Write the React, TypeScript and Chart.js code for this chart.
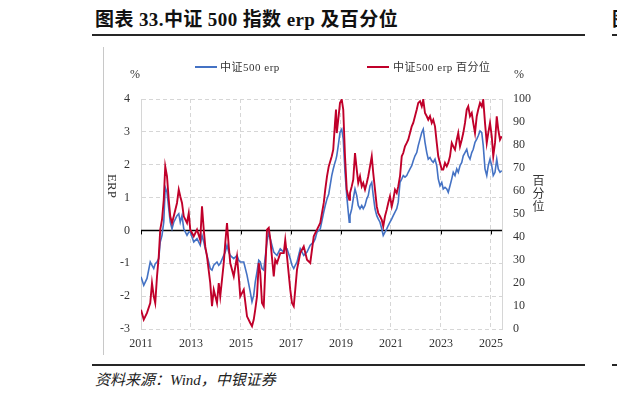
import React, { useEffect, useRef } from "react";
import { Chart, registerables } from "chart.js";

Chart.register(...registerables);

// Decimal-year dates shared by both series
const dates = [
  2011.00, 2011.11, 2011.24, 2011.37, 2011.44, 2011.51, 2011.57, 2011.64, 2011.71, 2011.77,
  2011.84, 2011.91, 2011.97, 2012.04, 2012.11, 2012.17, 2012.24, 2012.31, 2012.44, 2012.51,
  2012.57, 2012.64, 2012.71, 2012.84, 2012.91, 2012.97, 2013.11, 2013.24, 2013.37, 2013.44,
  2013.51, 2013.57, 2013.64, 2013.77, 2013.84, 2013.91, 2014.04, 2014.11, 2014.17, 2014.31,
  2014.37, 2014.44, 2014.51, 2014.57, 2014.71, 2014.84, 2014.91, 2014.97, 2015.11, 2015.24,
  2015.37, 2015.44, 2015.51, 2015.57, 2015.64, 2015.71, 2015.77, 2015.84, 2015.91, 2016.04,
  2016.11, 2016.17, 2016.31, 2016.37, 2016.44, 2016.57, 2016.71, 2016.77, 2016.84, 2016.97,
  2017.04, 2017.11, 2017.17, 2017.24, 2017.37, 2017.51, 2017.64, 2017.77, 2017.91, 2017.97,
  2018.04, 2018.17, 2018.31, 2018.37, 2018.44, 2018.51,
  2018.63, 2018.69, 2018.76, 2018.80, 2018.83, 2018.89, 2018.96,
  2019.03, 2019.09, 2019.16, 2019.23, 2019.29, 2019.33, 2019.36, 2019.43, 2019.49, 2019.56,
  2019.63, 2019.69, 2019.76, 2019.83, 2019.89, 2019.96,
  2020.03, 2020.09, 2020.16, 2020.23, 2020.29, 2020.36, 2020.43, 2020.49, 2020.56, 2020.63,
  2020.69, 2020.76, 2020.83, 2020.89, 2020.96,
  2021.03, 2021.09, 2021.16, 2021.23, 2021.29, 2021.36, 2021.43, 2021.49, 2021.56, 2021.63,
  2021.69, 2021.76, 2021.83, 2021.89, 2021.96,
  2022.03, 2022.09, 2022.16, 2022.23, 2022.29, 2022.36, 2022.43, 2022.49, 2022.56, 2022.63,
  2022.69, 2022.76, 2022.83, 2022.89, 2022.96,
  2023.03, 2023.09, 2023.16, 2023.23, 2023.29, 2023.36, 2023.43, 2023.49, 2023.56, 2023.63,
  2023.69, 2023.76, 2023.83, 2023.89, 2023.96,
  2024.03, 2024.09, 2024.16, 2024.23, 2024.29, 2024.36, 2024.43, 2024.49, 2024.56, 2024.63,
  2024.69, 2024.76, 2024.83, 2024.89, 2024.96,
  2025.03, 2025.09, 2025.16, 2025.23, 2025.29, 2025.36, 2025.43,
];

// 中证500 erp (%)
const erpValues = [
  -1.41, -1.67, -1.46, -0.96, -1.06, -1.16, -1.01, -0.96, -0.86, -0.35,
  -0.15, 0.25, 1.31, 1.16, 0.66, 0.25, 0.05, 0.25, 0.45, 0.51,
  0.25, 0.45, 0.05, -0.15, -0.05, -0.05, -0.35, -0.25, -0.45, -0.15,
  -0.35, -0.56, -0.76, -1.16, -1.21, -1.06, -0.96, -1.06, -1.01, -0.76,
  -0.66, -0.45, -0.66, -0.76, -0.86, -0.76, -0.91, -0.96, -0.96, -1.36,
  -1.87, -2.17, -1.97, -1.57, -1.26, -0.91, -0.96, -1.16, -1.21, -0.35,
  -0.05, -0.25, -0.66, -0.71, -0.76, -0.56, -0.66, -0.56, -0.56, -0.86,
  -1.06, -1.16, -1.06, -0.96, -0.56, -0.76, -0.66, -0.45, -0.35, -0.25,
  -0.05, 0.05, 0.56, 0.76, 0.96, 1.11,
  1.67, 1.87, 2.07, 2.17, 2.27, 2.58, 2.98,
  3.08, 2.78, 1.77, 1.06, 0.56, 0.25, 0.45, 0.66, 0.96, 1.26,
  1.06, 0.76, 0.66, 0.76, 0.66, 0.76,
  0.96, 1.06, 1.36, 1.46, 1.06, 0.66, 0.45, 0.35, 0.25, 0.05,
  -0.15, -0.05, 0.05, 0.15, 0.25,
  0.35, 0.45, 0.56, 0.66, 0.86, 1.46, 1.57, 1.67, 1.62, 1.67,
  1.77, 1.87, 1.97, 2.12, 2.27,
  2.37, 2.58, 2.78, 2.98, 3.08, 2.68, 2.37, 2.17, 2.22, 2.12,
  2.07, 2.17, 1.97, 1.57, 1.36,
  1.46, 1.26, 1.31, 1.26, 1.16, 1.36, 1.57, 1.77, 1.67, 1.87,
  1.77, 1.97, 2.07, 2.27, 2.37,
  2.47, 2.27, 2.17, 2.37, 2.47, 2.68, 2.78, 2.88, 3.03, 2.98,
  2.58, 1.87, 1.67, 1.97, 2.17,
  1.97, 1.67, 1.77, 2.17, 1.87, 1.77, 1.82,
];

// 中证500 erp 百分位 (%)
const pctValues = [
  8.4, 4.1, 7.0, 11.3, 20.0, 14.2, 11.3, 22.9, 31.6, 43.2,
  47.5, 56.2, 70.7, 66.4, 56.2, 49.0, 46.1, 49.0, 54.8, 60.6,
  57.7, 54.8, 49.0, 46.1, 50.4, 43.2, 40.3, 43.2, 38.7, 53.3,
  43.2, 35.9, 31.6, 20.0, 9.9, 17.1, 11.3, 20.0, 14.2, 28.7,
  37.4, 46.1, 36.0, 28.7, 22.9, 31.6, 22.9, 14.2, 17.1, 5.5,
  2.6, 1.2, 4.1, 8.4, 14.2, 28.7, 24.3, 11.3, 9.9, 43.2,
  44.0, 39.1, 22.9, 30.1, 28.7, 33.0, 33.0, 38.7, 31.6, 17.1,
  11.3, 9.9, 17.1, 25.8, 33.0, 35.9, 30.1, 28.7, 40.3, 41.7,
  43.2, 46.1, 54.8, 60.6, 66.4, 70.7,
  75.1, 78.0, 89.6, 95.4, 85.2, 91.0, 98.3,
  99.7, 95.4, 75.1, 60.6, 57.7, 56.2, 59.1, 62.0, 64.9, 76.5,
  69.3, 63.5, 66.4, 62.0, 63.5, 60.6,
  63.5, 66.4, 70.7, 75.1, 67.8, 60.6, 53.3, 50.4, 49.0, 47.5,
  44.6, 49.0, 51.9, 54.8, 57.7,
  53.3, 56.2, 60.6, 59.1, 62.0, 66.4, 75.1, 76.5, 79.4, 80.9,
  82.3, 85.2, 88.1, 89.6, 92.5,
  95.4, 98.3, 99.0, 96.8, 99.7, 93.9, 92.5, 91.0, 92.5, 89.6,
  91.0, 88.1, 80.9, 75.1, 72.2,
  69.3, 69.3, 72.2, 70.7, 72.2, 75.1, 80.9, 79.4, 78.0, 82.3,
  85.2, 79.4, 82.3, 85.2, 89.6,
  95.4, 96.8, 92.5, 93.9, 89.6, 85.2, 92.5, 95.4, 98.3, 96.8,
  99.7, 89.6, 80.9, 85.2, 89.6,
  83.8, 75.1, 80.9, 92.5, 86.7, 82.3, 83.8,
];

const xTickYears = [2011, 2013, 2015, 2017, 2019, 2021, 2023, 2025];
const xMin = 2011;
const xMax = 2025.44;
const erpMin = -3;
const erpMax = 4;
const pctMin = 0;
const pctMax = 100;

const seriesNames = ["中证500 erp", "中证500 erp 百分位"];

const BLUE = "#4472C4";
const RED = "#C0002A";
const GRID = "#d6d6d6";
const TEXT = "#333333";
const FONT = '"Liberation Serif", "Noto Sans CJK SC", serif';

const zeroLinePlugin = {
  id: "zeroLine",
  beforeDatasetsDraw(chart: any) {
    const { ctx, chartArea, scales } = chart;
    const y0 = scales.y.getPixelForValue(0);
    ctx.save();
    ctx.strokeStyle = "#000";
    ctx.lineWidth = 1.5;
    ctx.beginPath();
    ctx.moveTo(chartArea.left, y0);
    ctx.lineTo(chartArea.right, y0);
    ctx.stroke();
    ctx.lineWidth = 1;
    scales.x.ticks.forEach((t: any) => {
      const x = Math.round(scales.x.getPixelForValue(t.value)) + 0.5;
      ctx.beginPath();
      ctx.moveTo(x, y0);
      ctx.lineTo(x, y0 + 4);
      ctx.stroke();
    });
    ctx.restore();
  },
};

function ChartCanvas() {
  const ref = useRef<HTMLCanvasElement | null>(null);
  useEffect(() => {
    if (!ref.current) return;
    const chart = new Chart(ref.current, {
      type: "line",
      data: {
        datasets: [
          {
            label: seriesNames[0],
            data: dates.map((d, i) => ({ x: d, y: erpValues[i] })),
            yAxisID: "y",
            borderColor: BLUE,
            backgroundColor: BLUE,
            borderWidth: 1.6,
            pointRadius: 0,
            tension: 0,
            order: 2,
          },
          {
            label: seriesNames[1],
            data: dates.map((d, i) => ({ x: d, y: pctValues[i] })),
            yAxisID: "y1",
            borderColor: RED,
            backgroundColor: RED,
            borderWidth: 1.9,
            pointRadius: 0,
            tension: 0,
            order: 1,
          },
        ],
      },
      options: {
        animation: false,
        responsive: false,
        maintainAspectRatio: false,
        layout: { padding: { top: 52, left: 0, right: 0, bottom: 0 } },
        plugins: {
          legend: { display: false },
          tooltip: { enabled: false },
          title: { display: false },
        },
        scales: {
          x: {
            type: "linear",
            min: xMin,
            max: xMax,
            afterBuildTicks: (s: any) => {
              s.ticks = xTickYears.map((v) => ({ value: v }));
            },
            afterFit: (s: any) => {
              s.height = 28;
            },
            grid: { color: GRID, drawTicks: false, lineWidth: 1 },
            border: { display: false, dash: [4, 3] },
            ticks: {
              padding: 8,
              autoSkip: false,
              maxRotation: 0,
              color: TEXT,
              font: { family: FONT, size: 12 },
              callback: (v: any) => String(v),
            },
          },
          y: {
            position: "left",
            min: erpMin,
            max: erpMax,
            afterFit: (s: any) => {
              s.width = 38;
            },
            grid: {
              color: (c: any) => (c.tick && c.tick.value === 0 ? "rgba(0,0,0,0)" : GRID),
              drawTicks: false,
              lineWidth: 1,
            },
            border: { display: true, color: GRID, dash: [4, 3] },
            ticks: {
              stepSize: 1,
              padding: 11,
              color: TEXT,
              font: { family: FONT, size: 12 },
            },
          },
          y1: {
            position: "right",
            min: pctMin,
            max: pctMax,
            afterFit: (s: any) => {
              s.width = 61;
            },
            grid: { drawOnChartArea: false, drawTicks: false },
            border: { display: true, color: GRID },
            ticks: {
              stepSize: 10,
              padding: 11,
              color: TEXT,
              font: { family: FONT, size: 12 },
            },
          },
        },
      },
      plugins: [zeroLinePlugin],
    } as any);
    return () => chart.destroy();
  }, []);
  return (
    <canvas
      ref={ref}
      width={460}
      height={310}
      style={{ position: "absolute", left: 103, top: 47, width: 460, height: 310 }}
    />
  );
}

const abs = (s: React.CSSProperties): React.CSSProperties => ({ position: "absolute", ...s });

export default function App() {
  return (
    <div
      style={{
        position: "fixed",
        left: 0,
        top: 0,
        width: 617,
        height: 398,
        background: "#fff",
        overflow: "hidden",
        fontFamily: FONT,
        color: TEXT,
      }}
    >
      <div
        style={abs({
          left: 95,
          top: 9,
          fontSize: 19,
          lineHeight: "22px",
          fontWeight: "bold",
          color: "#111",
          whiteSpace: "nowrap",
          letterSpacing: 0.4,
        })}
      >
        图表 33.中证 500 指数 erp 及百分位
      </div>
      <div style={abs({ left: 612, top: 9, fontSize: 19, lineHeight: "22px", fontWeight: "bold", color: "#111" })}>图</div>
      <div style={abs({ left: 92, top: 34, width: 493, height: 2, background: "#262626" })} />
      <div style={abs({ left: 612, top: 34, width: 10, height: 2, background: "#262626" })} />

      <div style={abs({ left: 103, top: 47, width: 1, height: 308, background: "#c8c8c8" })} />

      <ChartCanvas />

      <div style={abs({ left: 195, top: 66, width: 22, height: 2, background: BLUE })} />
      <div style={abs({ left: 220, top: 60, fontSize: 11, lineHeight: "14px", whiteSpace: "nowrap", letterSpacing: 0.5 })}>
        {seriesNames[0]}
      </div>
      <div style={abs({ left: 367, top: 66, width: 22, height: 2, background: RED })} />
      <div style={abs({ left: 393, top: 60, fontSize: 11, lineHeight: "14px", whiteSpace: "nowrap", letterSpacing: 0.5 })}>
        {seriesNames[1]}
      </div>

      <div style={abs({ left: 130, top: 67, fontSize: 12, lineHeight: "14px" })}>%</div>
      <div style={abs({ left: 514, top: 67, fontSize: 12, lineHeight: "14px" })}>%</div>

      <div
        style={abs({
          left: 112 - 20,
          top: 186 - 8,
          width: 40,
          height: 16,
          fontSize: 13,
          lineHeight: "16px",
          textAlign: "center",
          transform: "rotate(90deg)",
        })}
      >
        ERP
      </div>
      <div
        style={abs({
          left: 532,
          top: 175,
          width: 13,
          fontSize: 12,
          lineHeight: "13px",
          textAlign: "center",
        })}
      >
        百<br />分<br />位
      </div>

      <div style={abs({ left: 92, top: 364, width: 493, height: 2, background: "#262626" })} />
      <div style={abs({ left: 612, top: 364, width: 10, height: 2, background: "#262626" })} />

      <div
        style={abs({
          left: 95,
          top: 371,
          fontSize: 15,
          lineHeight: "18px",
          fontStyle: "italic",
          color: "#222",
          whiteSpace: "nowrap",
        })}
      >
        资料来源：Wind，中银证券
      </div>
    </div>
  );
}
